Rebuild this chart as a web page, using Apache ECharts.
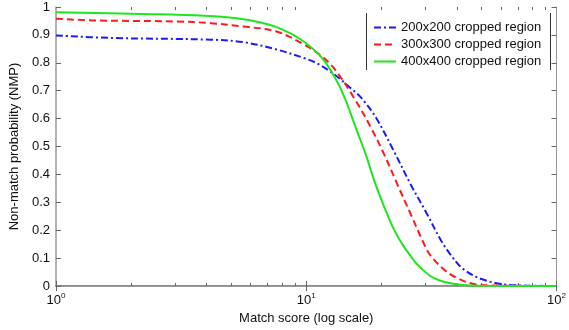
<!DOCTYPE html>
<html>
<head>
<meta charset="utf-8">
<script src="https://cdn.jsdelivr.net/npm/echarts@6/dist/echarts.min.js"></script>
<style>html,body{margin:0;padding:0;background:#fff;}#c{width:569px;height:330px;}</style>
</head>
<body>
<div id="c"></div>
<script>
var seriesNames = ['200x200 cropped region', '300x300 cropped region', '400x400 cropped region'];
var blueX = [1, 1.67, 4.13, 5.61, 7.59, 9.95, 11.2, 13.0, 15.1, 16.6, 19.0, 22.4, 26.1, 30.3, 34.7, 37.9, 42.2, 50.5, 64.3, 100];
var blueY = [0.898, 0.889, 0.883, 0.874, 0.848, 0.815, 0.795, 0.757, 0.708, 0.674, 0.603, 0.483, 0.365, 0.260, 0.160, 0.110, 0.062, 0.024, 0.004, 0.0];
var redX = [1, 1.41, 3.06, 4.15, 5.61, 7.55, 9.64, 11.5, 13.0, 15.6, 18.2, 20.5, 23.1, 26.1, 29.4, 31.2, 35.2, 39.7, 47.5, 63.1, 100];
var redY = [0.958, 0.952, 0.948, 0.942, 0.930, 0.913, 0.869, 0.824, 0.777, 0.671, 0.565, 0.471, 0.365, 0.259, 0.155, 0.112, 0.062, 0.030, 0.006, 0.001, 0];
var greenX = [1, 2.20, 3.91, 5.27, 6.52, 8.05, 9.64, 11.5, 13.0, 14.3, 15.8, 17.3, 18.7, 20.5, 22.4, 24.5, 26.1, 27.7, 32.1, 39.7, 50.1, 100];
var greenY = [0.981, 0.975, 0.969, 0.960, 0.945, 0.919, 0.880, 0.820, 0.748, 0.671, 0.565, 0.471, 0.377, 0.283, 0.203, 0.142, 0.108, 0.078, 0.030, 0.006, 0.001, 0];
var xMajor = [1, 10, 100];
var xMinor = [2, 3, 4, 5, 6, 7, 8, 9, 20, 30, 40, 50, 60, 70, 80, 90];
var xExp = {1: '0', 10: '1', 100: '2'};

function pairs(xs, ys) { return xs.map(function (x, i) { return [x, ys[i]]; }); }

var font = 'Liberation Sans, Arial, sans-serif';
var axisCol = '#666';
var chart = echarts.init(document.getElementById('c'));
var hiddenLabel = {show: false};
chart.setOption({
  animation: false,
  grid: {left: 49, right: 10, top: 7, bottom: 40, show: false},
  legend: {
    orient: 'vertical', left: 368, top: 16, itemGap: 4, itemWidth: 22, itemHeight: 14,
    itemStyle: {opacity: 0},
    textStyle: {fontFamily: font, fontSize: 13, color: '#111'},
    data: seriesNames
  },
  graphic: [
    {type: 'line', shape: {x1: 366.5, y1: 13, x2: 366.5, y2: 70}, style: {stroke: '#333', lineWidth: 1}},
    {type: 'line', shape: {x1: 550.5, y1: 13, x2: 550.5, y2: 70}, style: {stroke: '#333', lineWidth: 1}}
  ],
  xAxis: [
    {type: 'log', min: 1, max: 100, logBase: 10, position: 'bottom',
     name: 'Match score (log scale)', nameLocation: 'middle', nameGap: 26,
     nameTextStyle: {fontFamily: font, fontSize: 13, color: '#111'},
     axisLine: {lineStyle: {color: axisCol, width: 1.5}},
     axisTick: {inside: true, length: 5, lineStyle: {color: axisCol}, customValues: xMajor},
     axisLabel: {customValues: xMajor, fontFamily: font, fontSize: 13, color: '#111', margin: 6,
       formatter: function (v) { return '10{s|' + xExp[Math.round(v)] + '}'; },
       rich: {s: {fontSize: 8, fontFamily: font, color: '#111', padding: [0, 0, 9, 0]}}},
     splitLine: {show: false}},
    {type: 'log', min: 1, max: 100, logBase: 10, position: 'top',
     axisLine: {lineStyle: {color: '#999', width: 1}},
     axisTick: {inside: true, length: 5, lineStyle: {color: axisCol}, customValues: xMajor},
     axisLabel: hiddenLabel, splitLine: {show: false}},
    {type: 'log', min: 1, max: 100, logBase: 10, position: 'bottom',
     axisLine: {show: false},
     axisTick: {inside: true, length: 3, lineStyle: {color: axisCol}, customValues: xMinor},
     axisLabel: hiddenLabel, splitLine: {show: false}},
    {type: 'log', min: 1, max: 100, logBase: 10, position: 'top',
     axisLine: {show: false},
     axisTick: {inside: true, length: 3, lineStyle: {color: axisCol}, customValues: xMinor},
     axisLabel: hiddenLabel, splitLine: {show: false}}
  ],
  yAxis: [
    {type: 'value', min: 0, max: 1, interval: 0.1, position: 'left',
     name: 'Non-match probability (NMP)', nameLocation: 'middle', nameGap: 28,
     nameTextStyle: {fontFamily: font, fontSize: 13, color: '#111'},
     axisLine: {show: true, lineStyle: {color: '#999', width: 1.5}},
     axisTick: {show: true, inside: true, length: 5, lineStyle: {color: axisCol}},
     axisLabel: {fontFamily: font, fontSize: 13, color: '#111', margin: 6},
     splitLine: {show: false}},
    {type: 'value', min: 0, max: 1, interval: 0.1, position: 'right',
     axisLine: {show: true, lineStyle: {color: '#999', width: 1}},
     axisTick: {show: true, inside: true, length: 5, lineStyle: {color: axisCol}},
     axisLabel: hiddenLabel, splitLine: {show: false}}
  ],
  series: [
    {name: seriesNames[0], type: 'line', data: pairs(blueX, blueY), showSymbol: false, symbol: 'none', smooth: 0.35,
     color: '#1a1aff', lineStyle: {color: '#1a1aff', width: 2, type: [7, 3, 2, 3]}, z: 3},
    {name: seriesNames[1], type: 'line', data: pairs(redX, redY), showSymbol: false, symbol: 'none', smooth: 0.35,
     color: '#ff1a1a', lineStyle: {color: '#ff1a1a', width: 2, type: [7, 4]}, z: 4},
    {name: seriesNames[2], type: 'line', data: pairs(greenX, greenY), showSymbol: false, symbol: 'none', smooth: 0.35,
     color: '#1ee61e', lineStyle: {color: '#1ee61e', width: 2, type: 'solid'}, z: 5}
  ]
});
</script>
</body>
</html>
